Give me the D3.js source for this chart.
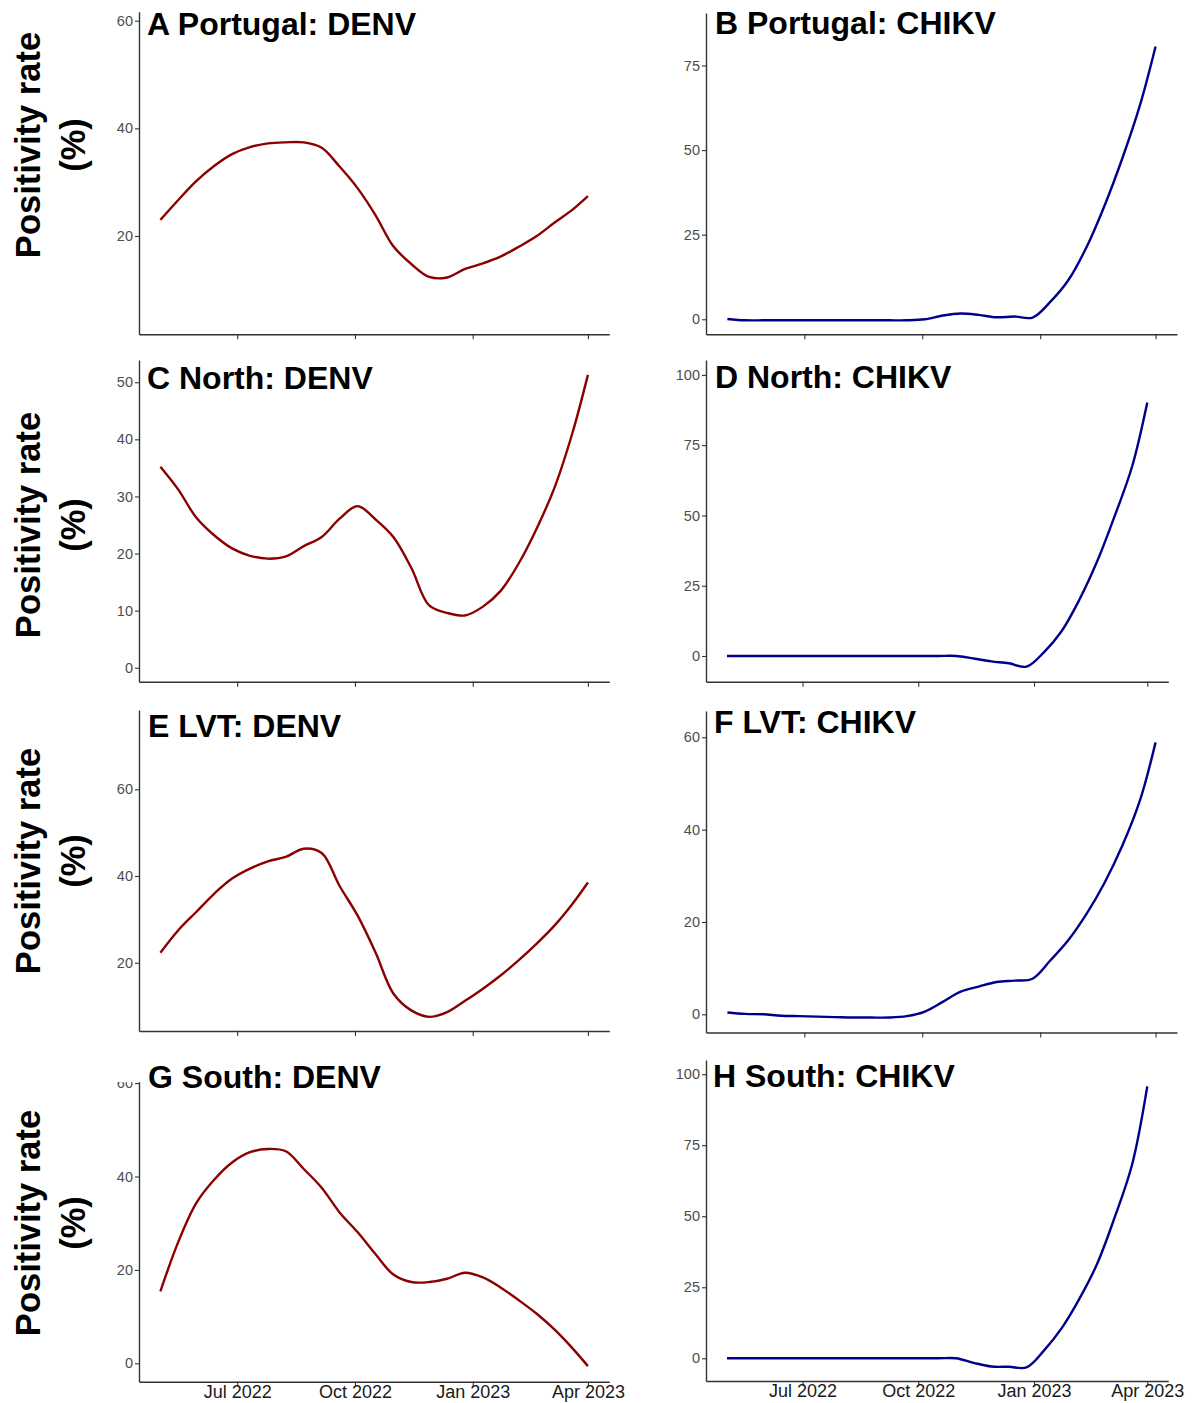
<!DOCTYPE html>
<html lang="en">
<head>
<meta charset="UTF-8">
<title>Positivity rate: DENV and CHIKV</title>
<script src="https://cdn.jsdelivr.net/npm/d3@7"></script>
<style>
  body { margin: 0; background: #fff; }
  text { font-family: "Liberation Sans", Arial, sans-serif; }
</style>
</head>
<body>
<script>
// sampling dates (every two weeks, smoothed curves)
const dates = ["2022-05-02","2022-05-16","2022-05-30","2022-06-13","2022-06-27","2022-07-11",
  "2022-07-25","2022-08-08","2022-08-22","2022-09-05","2022-09-19","2022-10-03","2022-10-17",
  "2022-10-31","2022-11-14","2022-11-28","2022-12-12","2022-12-26","2023-01-09","2023-01-23",
  "2023-02-06","2023-02-20","2023-03-06","2023-03-20","2023-04-01"];

// positivity rate (%)
const portugalDenv  = [23.0,26.7,30.2,33.0,35.2,36.5,37.2,37.4,37.4,36.4,32.9,28.9,23.9,18.1,14.8,12.4,12.3,13.9,14.9,16.2,18.0,20.0,22.5,24.9,27.4];
const portugalChikv = [0.1,-0.3,-0.3,-0.3,-0.3,-0.3,-0.3,-0.3,-0.3,-0.3,-0.3,0.0,1.1,1.7,1.3,0.6,0.8,0.5,5.2,11.6,21.2,33.4,47.5,63.5,80.6];
const northDenv     = [35.2,31.2,26.3,23.2,20.9,19.6,19.1,19.5,21.3,22.9,26.1,28.3,26.0,22.9,17.5,10.9,9.6,9.15,10.7,13.5,18.3,24.4,31.6,41.2,51.3];
const northChikv    = [0,0,0,0,0,0,0,0,0,0,0,0,0,0,-0.9,-1.9,-2.6,-3.8,1.4,8.9,20.0,33.5,49.7,67.5,90.2];
const lvtDenv       = [22.3,27.5,31.7,35.9,39.4,41.7,43.4,44.4,46.3,45.3,37.7,30.9,22.4,12.9,9.0,7.5,8.6,11.2,14.0,17.1,20.6,24.4,28.6,33.6,38.5];
const lvtChikv      = [0.4,0.1,0.0,-0.3,-0.4,-0.5,-0.6,-0.7,-0.7,-0.7,-0.4,0.6,2.7,4.9,6.0,7.0,7.3,7.7,11.7,16.1,21.7,28.4,36.5,46.5,58.9];
const southDenv     = [15.4,26.0,34.3,39.3,43.0,45.2,45.9,45.4,41.6,37.6,32.3,28.1,23.4,19.0,17.4,17.4,18.1,19.4,18.4,16.2,13.5,10.6,7.2,3.2,-0.6];
const southChikv    = [0,0,0,0,0,0,0,0,0,0,0,0,0,0,-1.6,-2.9,-3.0,-3.2,2.8,10.6,20.9,33.1,49.5,68.3,95.7];

// axis ticks
const xTickDates = ["2022-07-01","2022-10-01","2023-01-01","2023-04-01"];
const ticksA = [20,40,60];
const ticksB = [0,25,50,75];
const ticksC = [0,10,20,30,40,50];
const ticksD = [0,25,50,75,100];
const ticksE = [20,40,60];
const ticksF = [0,20,40,60];
const ticksG = [0,20,40,60];
const ticksH = [0,25,50,75,100];

const parse = d3.timeParse("%Y-%m-%d");
const dateObjs = dates.map(parse);
const xTicks = xTickDates.map(parse);

// date domain with 5% expansion like ggplot
let ext = d3.extent(dateObjs);
let pad = (ext[1] - ext[0]) * 0.05;
let xDomain = [new Date(+ext[0] - pad), new Date(+ext[1] + pad)];

const denvCol = "#8b0000", chikvCol = "#00008b";

// panel layout
const panels = [
  {tag:"A", title:"Portugal: DENV", v:portugalDenv, col:denvCol, ticks:ticksA, dom:[1.74,61.67], x0:139, x1:609.3, y0:334.3, y1:11.7, tx:147, ty:35, ylab:145},
  {tag:"B", title:"Portugal: CHIKV", v:portugalChikv, col:chikvCol, ticks:ticksB, dom:[-4.44,90.5], x0:706, x1:1177, y0:334.3, y1:13, tx:715, ty:33.5},
  {tag:"C", title:"North: DENV", v:northDenv, col:denvCol, ticks:ticksC, dom:[-2.45,53.9], x0:139, x1:609.3, y0:681.7, y1:360, tx:147, ty:389, ylab:525},
  {tag:"D", title:"North: CHIKV", v:northChikv, col:chikvCol, ticks:ticksD, dom:[-9.15,105.3], x0:706, x1:1168.3, y0:681.7, y1:360, tx:715, ty:388},
  {tag:"E", title:"LVT: DENV", v:lvtDenv, col:denvCol, ticks:ticksE, dom:[4.24,78.3], x0:139, x1:609.3, y0:1031, y1:710, tx:148, ty:736.5, ylab:861},
  {tag:"F", title:"LVT: CHIKV", v:lvtChikv, col:chikvCol, ticks:ticksF, dom:[-3.94,65.7], x0:706, x1:1177, y0:1032.5, y1:711, tx:714, ty:732.5},
  {tag:"G", title:"South: DENV", v:southDenv, col:denvCol, ticks:ticksG, dom:[-3.94,60.3], x0:139, x1:609.3, y0:1381.7, y1:1081.7, tx:148, ty:1088, ylab:1223, xlab:true},
  {tag:"H", title:"South: CHIKV", v:southChikv, col:chikvCol, ticks:ticksH, dom:[-8,105], x0:706, x1:1168.3, y0:1381, y1:1060, tx:713, ty:1086.5, xlab:true}
];

let svg = d3.select("body").append("svg")
  .attr("width", 1199).attr("height", 1403)
  .style("display", "block");

let defs = svg.append("defs");
let fmt = d3.timeFormat("%b %Y");

panels.forEach(function (p) {
  let x = d3.scaleTime().domain(xDomain).range([p.x0, p.x1]);
  let y = d3.scaleLinear().domain(p.dom).range([p.y0, p.y1]);

  // y axis
  let gy = svg.append("g")
    .attr("transform", "translate(" + p.x0 + ",0)")
    .call(d3.axisLeft(y).tickValues(p.ticks).tickSize(4).tickPadding(2).tickSizeOuter(0));
  gy.select(".domain").attr("stroke", "#333").attr("stroke-width", 1.4);
  gy.selectAll(".tick line").attr("stroke", "#333").attr("stroke-width", 1.1);
  gy.selectAll(".tick text")
    .attr("fill", "#4d4d4d").style("font-size", "14.5px");
  gy.selectAll(".tick text").each(function () {
    let t = d3.select(this);
    let ty = d3.select(this.parentNode).attr("transform");
    let yy = +ty.match(/,([-\d.]+)\)/)[1];
    if (yy - 7 < p.y1 - 0.5) {
      // label sticking out above the panel is cut, as in the original
      let c = "clipT" + p.tag;
      defs.append("clipPath").attr("id", c)
        .append("rect").attr("x", -60).attr("y", p.y1 - yy + 0.5).attr("width", 60).attr("height", 30);
      t.attr("clip-path", "url(#" + c + ")");
    }
  });

  // x axis
  let gx = svg.append("g")
    .attr("transform", "translate(0," + p.y0 + ")")
    .call(d3.axisBottom(x).tickValues(xTicks).tickSize(5).tickSizeOuter(0).tickFormat(p.xlab ? fmt : ""));
  gx.select(".domain").attr("stroke", "#333").attr("stroke-width", 1.4);
  gx.selectAll(".tick line").attr("stroke", "#333").attr("stroke-width", 1.1);
  gx.selectAll(".tick text")
    .attr("fill", "#1a1a1a").attr("y", 16.3).attr("dy", 0)
    .style("font-size", "18px");

  // line
  let line = d3.line()
    .x(function (d, i) { return x(dateObjs[i]); })
    .y(function (d) { return y(d); })
    .curve(d3.curveCatmullRom.alpha(0.5));
  svg.append("path")
    .datum(p.v)
    .attr("d", line)
    .attr("fill", "none")
    .attr("stroke", p.col)
    .attr("stroke-width", 2.4)
    .attr("stroke-linejoin", "round");

  // panel title
  svg.append("text")
    .attr("x", p.tx).attr("y", p.ty)
    .style("font-size", "32px").style("font-weight", "bold")
    .attr("fill", "#000")
    .text(p.tag + " " + p.title);

  // y axis title (left column only)
  if (p.ylab) {
    let lab = svg.append("text")
      .attr("transform", "translate(0," + p.ylab + ") rotate(-90)")
      .attr("text-anchor", "middle")
      .style("font-size", "34.5px").style("font-weight", "bold")
      .attr("fill", "#000");
    lab.append("tspan").attr("x", 0).attr("y", 40).text("Positivity rate");
    lab.append("tspan").attr("x", 0).attr("y", 85).text("(%)");
  }
});
</script>
</body>
</html>
